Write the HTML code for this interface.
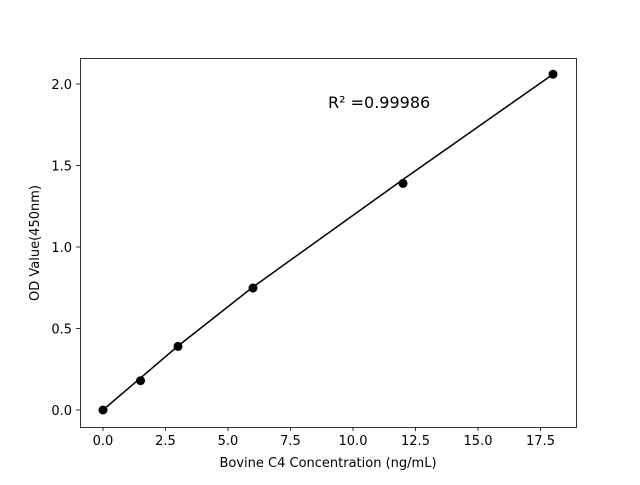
<!DOCTYPE html>
<html><head><style>body{margin:0;background:#fff}</style></head><body>
<svg width="640" height="480" xmlns="http://www.w3.org/2000/svg" font-family="DejaVu Sans, sans-serif" font-size="13">
<rect width="640" height="480" fill="#fff"/>
<polyline points="103,410 178,346 253,287 403,179.5 553,74.2" fill="none" stroke="#000" stroke-width="1.5"/>
<g fill="#000">
<circle cx="103" cy="410" r="4.5"/><circle cx="140.5" cy="380.7" r="4.5"/><circle cx="178" cy="346.4" r="4.5"/>
<circle cx="253" cy="288" r="4.5"/><circle cx="403" cy="183.4" r="4.5"/><circle cx="553" cy="74.2" r="4.5"/>
</g>
<rect x="80.5" y="58.5" width="496" height="369" fill="none" stroke="#000" stroke-width="0.8"/>
<g stroke="#000" stroke-width="0.8">
<line x1="103" y1="427" x2="103" y2="431"/><line x1="165.5" y1="427" x2="165.5" y2="431"/><line x1="228" y1="427" x2="228" y2="431"/><line x1="290.5" y1="427" x2="290.5" y2="431"/><line x1="353" y1="427" x2="353" y2="431"/><line x1="415.5" y1="427" x2="415.5" y2="431"/><line x1="478" y1="427" x2="478" y2="431"/><line x1="540.5" y1="427" x2="540.5" y2="431"/>
<line x1="80" y1="410" x2="76" y2="410"/><line x1="80" y1="328.5" x2="76" y2="328.5"/><line x1="80" y1="247" x2="76" y2="247"/><line x1="80" y1="165.5" x2="76" y2="165.5"/><line x1="80" y1="84" x2="76" y2="84"/>
</g>
<g text-anchor="middle">
<text x="103" y="445">0.0</text><text x="165.5" y="445">2.5</text><text x="228" y="445">5.0</text><text x="290.5" y="445">7.5</text><text x="353" y="445">10.0</text><text x="415.5" y="445">12.5</text><text x="478" y="445">15.0</text><text x="540.5" y="445">17.5</text>
<text x="328" y="467">Bovine C4 Concentration (ng/mL)</text>
</g>
<g text-anchor="end">
<text x="72" y="415">0.0</text><text x="72" y="333.5">0.5</text><text x="72" y="252">1.0</text><text x="72" y="170.5">1.5</text><text x="72" y="89">2.0</text>
</g>
<text transform="translate(39,243) rotate(-90)" text-anchor="middle">OD Value(450nm)</text>
<text x="328" y="108" font-size="16">R² =0.99986</text>
</svg>
</body></html>
